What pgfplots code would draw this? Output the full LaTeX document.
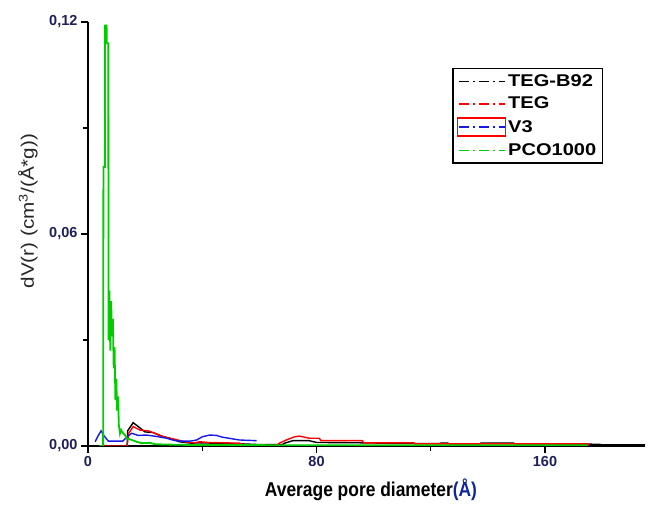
\documentclass[border=0pt]{standalone}
\usepackage{pgfplots}
\pgfplotsset{compat=1.18}
\usepackage{fontspec}
\setmainfont{Liberation Sans}
\newfontfamily\xlabfont[FakeStretch=0.87]{Liberation Sans}
\newfontfamily\ylabfont[FakeStretch=1.15]{Liberation Sans}
\newfontfamily\legfont[FakeStretch=1.18]{Liberation Sans}
\definecolor{navy}{rgb}{0.12,0.12,0.35}
\definecolor{lblue}{rgb}{0.05,0.15,0.6}
\definecolor{cgreen}{rgb}{0.0,0.8,0.0}
\definecolor{cblue}{rgb}{0.1,0.1,0.9}
\definecolor{cred}{rgb}{1,0,0}
\begin{document}
\begin{tikzpicture}
\begin{axis}[
  scale only axis,
  width=557pt, height=424pt,
  xmin=0, xmax=195, ymin=0, ymax=0.12,
  axis x line=bottom, axis y line=left,
  axis line style={-, line width=1.4pt},
  xtick={0,80,160}, minor xtick={40,120},
  ytick={0,0.06,0.12}, minor ytick={0.03,0.09},
  tick align=outside,
  major tick length=7pt, minor tick length=5pt,
  every tick/.style={black, line width=1.4pt},
  tick label style={font=\bfseries\fontsize{14.5}{16}\selectfont, text=navy},
  /pgf/number format/assume math mode=true,
  yticklabel style={/pgf/number format/.cd, fixed, fixed zerofill, precision=2, use comma},
  xticklabel style={/pgf/number format/.cd, fixed, precision=0},
  scaled y ticks=false,
  xlabel={\xlabfont\bfseries\fontsize{20}{22}\selectfont Average pore diameter{\color{lblue}(Å)}},
  xlabel style={at={(axis description cs:0.508,-0.104)}, anchor=center},
  ylabel={\ylabfont\fontsize{18}{20}\selectfont dV(r) (cm\textsuperscript{3}/(Å*g))},
  ylabel style={at={(axis description cs:-0.108,0.554)}, anchor=center, text=black!85},
  legend style={at={(axis description cs:0.9246,0.8915)}, anchor=north east,
    draw=black, line width=1.4pt, font=\legfont\bfseries\fontsize{17}{19}\selectfont,
    row sep=5pt, inner sep=4pt},
  legend cell align=left,
  every axis plot/.append style={line width=1.4pt},
]
\addplot[black, legend image code/.code={\draw[black, line width=1.5pt, dash pattern=on 10pt off 4pt on 2pt off 4pt] (0pt,0pt) -- (46pt,0pt);}] coordinates {
(13.7,0) (13.9,0.0043) (15.8,0.0066) (17.6,0.0055) (19.9,0.0040) (22.8,0.0038) (25.7,0.0028) (28.6,0.0022) (32,0.0012) (36,0.0008) (39.7,0.0009) (44,0.0008) (54,0.0006) (60,0.0004) (68,0.0004) (68.8,0.0008) (71.7,0.0015) (77.5,0.0015) (80,0.0010) (96,0.0009) (110,0.0007) (123,0.0007) (123.5,0.0008) (126,0.0008) (126.5,0.0006) (137,0.0006) (137.5,0.0008) (149,0.0008) (149.5,0.0006) (179,0.0005) (180,0.0003) (195,0.0003)
};
\addlegendentry{TEG-B92}
\addplot[cred, legend image code/.code={\draw[cred, line width=1.5pt, dash pattern=on 10pt off 4pt on 2pt off 4pt] (0pt,0pt) -- (46pt,0pt);}] coordinates {
(4,0) (13.7,0) (14.2,0.0035) (15.8,0.0055) (18.2,0.0045) (21,0.0043) (23.4,0.0036) (26.9,0.0025) (30.4,0.0019) (33.9,0.0012) (37.3,0.0009) (39,0.0012) (42,0.0010) (53,0.0008) (55,0.0002) (66,0.0002) (67,0.0008) (69.4,0.0017) (72.3,0.0026) (74,0.0028) (77.5,0.0022) (81,0.0022) (81.5,0.0015) (96,0.0015) (96.5,0.0009) (114,0.0009) (114.5,0.0006) (175,0.0006) (175.5,0.0002)
};
\addlegendentry{TEG}
\addplot[cblue, legend image code/.code={\draw[cred, line width=1.3pt] (-1pt,-9pt) rectangle (47pt,9pt); \draw[cblue, line width=1.5pt, dash pattern=on 10pt off 4pt on 2pt off 4pt] (0pt,0pt) -- (46pt,0pt);}] coordinates {
(2.5,0.0012) (3.6,0.0030) (4.6,0.0043) (5.5,0.0030) (7.1,0.0014) (12.2,0.0014) (13.5,0.0025) (15.3,0.0036) (17.5,0.0030) (20.5,0.0031) (24,0.0027) (27.5,0.0022) (30,0.0016) (32,0.0014) (36,0.0014) (38,0.0017) (40,0.0026) (42.6,0.0031) (45,0.0030) (47,0.0025) (50,0.0021) (53,0.0017) (59,0.0015)
};
\addlegendentry{V3}
\addplot[cgreen, line width=1.8pt, legend image code/.code={\draw[cgreen, line width=1.5pt, dash pattern=on 10pt off 4pt on 2pt off 4pt] (0pt,0pt) -- (46pt,0pt);}] coordinates {
(4,0) (5.3,0) (5.4,0.079) (5.9,0.079) (6.0,0.119) (6.5,0.119) (6.6,0.114) (7.1,0.114) (7.2,0.030) (7.5,0.044) (7.8,0.027) (8.1,0.041) (8.4,0.031) (8.7,0.036) (9.0,0.022) (9.3,0.028) (9.6,0.013) (9.9,0.019) (10.2,0.010) (10.5,0.014) (10.8,0.006) (11.2,0.0035) (11.6,0.0045) (12.2,0.0037) (13,0.0030) (13.5,0.0022) (15,0.0018) (17,0.0012) (18.7,0.0008) (21.7,0.0009) (23.5,0.0005) (28,0.0004) (35,0.0003) (50,0.0003) (70,0.0002) (90,0.0002) (130,0.0002) (175,0.0002)
};
\addlegendentry{PCO1000}
\end{axis}
\path ([shift={(-88pt,-62pt)}]current axis.south west) rectangle ([shift={(6pt,22pt)}]current axis.north east);
\end{tikzpicture}
\end{document}
